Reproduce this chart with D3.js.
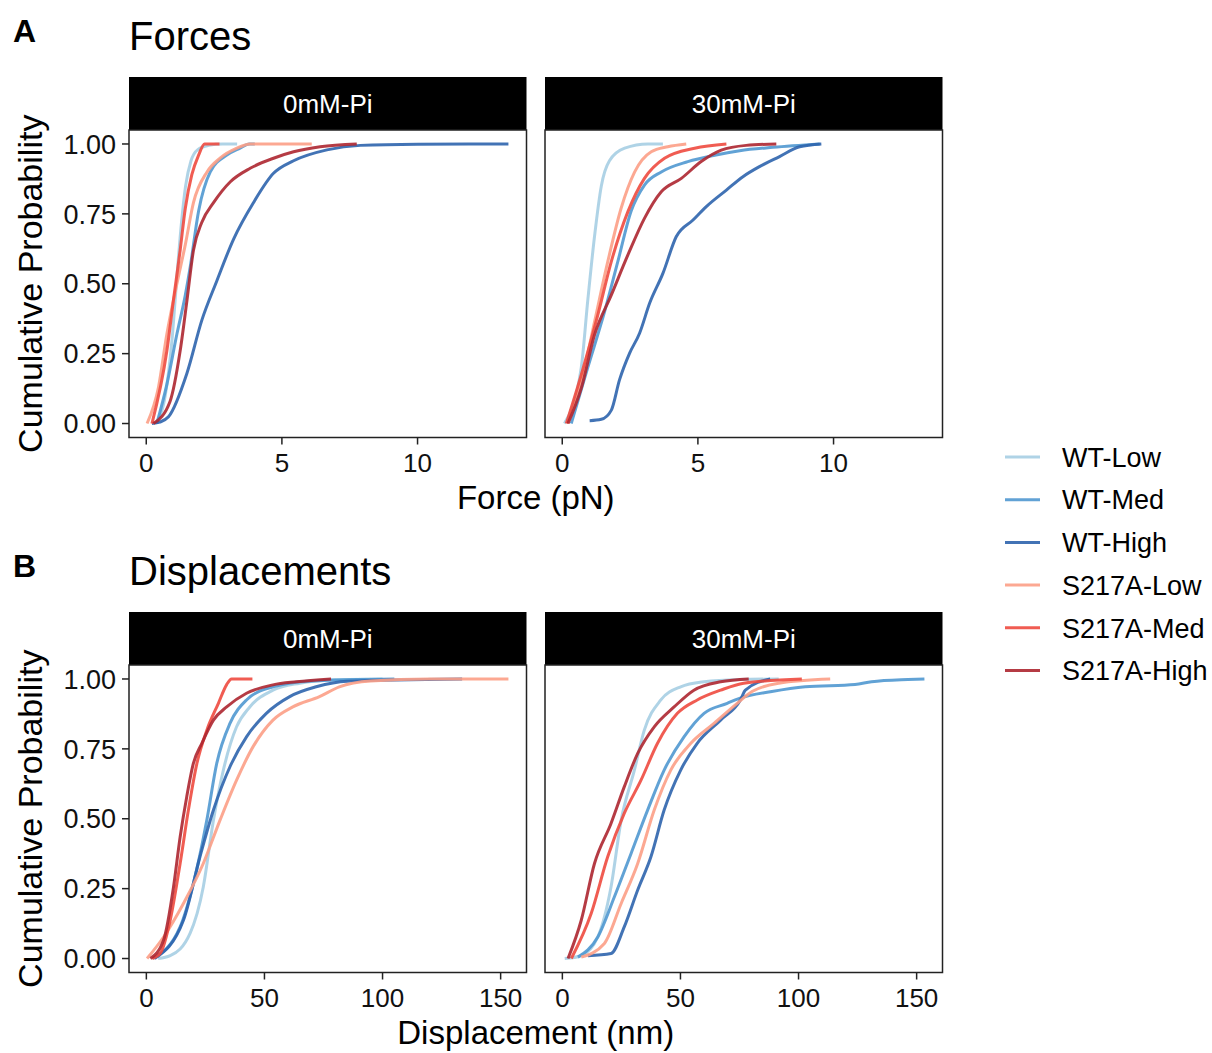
<!DOCTYPE html>
<html>
<head>
<meta charset="utf-8">
<script src="https://cdn.jsdelivr.net/npm/d3@7"></script>
<style>
  body { margin: 0; background: #fff; }
  text { font-family: "Liberation Sans", Arial, sans-serif; }
</style>
</head>
<body>
<svg id="chart" width="1212" height="1053"></svg>
<script>
const groups = ["WT-Low", "WT-Med", "WT-High", "S217A-Low", "S217A-Med", "S217A-High"]
const colors = ["#a6cee3", "#5098d0", "#2d64ad", "#fc9f86", "#ee4a3f", "#ad2630"]
const facets = ["0mM-Pi", "30mM-Pi"]
const yTicks = [0, 0.25, 0.5, 0.75, 1]
const forceTicks = [0, 5, 10]
const dispTicks = [0, 50, 100, 150]

// ecdf curves, [value, cumulative probability]
// Forces, 0mM-Pi
const f0_wtLow = [[0.35,0],[0.7,0.1],[0.95,0.3],[1.15,0.55],[1.3,0.72],[1.45,0.85],[1.65,0.94],[1.9,0.98],[2.3,0.995],[2.8,1],[3.35,1]]
const f0_wtMed = [[0.39,0],[0.76,0.14],[1.13,0.32],[1.44,0.46],[1.62,0.56],[1.93,0.76],[2.36,0.9],[2.97,0.96],[3.46,0.985],[3.8,1],[4.0,1]]
const f0_wtHigh = [[0.21,0],[0.5,0.005],[0.82,0.024],[1.5,0.18],[2.05,0.37],[2.6,0.51],[3.22,0.66],[3.95,0.79],[4.69,0.895],[5.43,0.94],[6.66,0.979],[7.89,0.995],[10,0.999],[13.35,1]]
const f0_sLow = [[0.03,0],[0.45,0.13],[0.76,0.32],[1.13,0.5],[1.44,0.64],[1.74,0.79],[2.24,0.9],[2.73,0.95],[3.34,0.985],[3.83,1],[6.1,1]]
const f0_sMed = [[0.21,0],[0.76,0.26],[1.0,0.44],[1.25,0.62],[1.44,0.77],[1.68,0.89],[1.93,0.96],[2.15,1],[2.7,1]]
const f0_sHigh = [[0.27,0],[0.88,0.08],[1.25,0.26],[1.5,0.44],[1.74,0.62],[2.05,0.72],[2.48,0.79],[3.1,0.865],[3.83,0.913],[4.69,0.949],[5.43,0.972],[6.41,0.99],[7.76,1]]
// Forces, 30mM-Pi
const f30_wtLow = [[0.08,0],[0.7,0.2],[0.94,0.44],[1.19,0.67],[1.44,0.85],[1.74,0.94],[2.3,0.985],[3.16,1],[3.71,1]]
const f30_wtMed = [[0.33,0],[0.94,0.2],[1.56,0.4],[2.05,0.58],[2.54,0.76],[3.03,0.853],[3.65,0.9],[4.63,0.937],[5.62,0.96],[6.54,0.976],[7.77,0.988],[9.49,1]]
const f30_wtHigh = [[1.01,0.01],[1.44,0.015],[1.81,0.048],[2.11,0.156],[2.48,0.251],[2.85,0.323],[3.22,0.43],[3.71,0.537],[4.2,0.668],[4.82,0.728],[5.31,0.776],[6.05,0.835],[6.66,0.883],[7.27,0.919],[8.01,0.955],[8.75,0.99],[9.55,1]]
const f30_sLow = [[0.21,0],[0.82,0.2],[1.19,0.364],[1.68,0.58],[2.17,0.77],[2.67,0.9],[3.28,0.972],[3.89,0.99],[4.57,1]]
const f30_sMed = [[0.15,0],[0.7,0.174],[1.31,0.388],[1.81,0.58],[2.42,0.758],[3.03,0.877],[3.77,0.949],[4.88,0.985],[6.05,1]]
const f30_sHigh = [[0.21,0],[0.7,0.126],[1.19,0.317],[1.81,0.46],[2.42,0.603],[3.03,0.734],[3.65,0.829],[4.39,0.877],[5.12,0.937],[5.86,0.978],[6.78,0.995],[7.89,1]]
// Displacements, 0mM-Pi
const d0_wtLow = [[5,0],[10.1,0.01],[18.5,0.09],[24.1,0.256],[28.4,0.495],[32.6,0.674],[38.2,0.829],[43.8,0.9],[53.6,0.96],[65,0.985],[80,0.997],[100,1]]
const d0_wtMed = [[2.8,0],[14.3,0.113],[19.9,0.268],[25.6,0.495],[29.8,0.698],[35.4,0.841],[42.4,0.925],[53.6,0.972],[70,0.993],[105,1]]
const d0_wtHigh = [[3.5,0],[15.7,0.137],[22.7,0.364],[28.4,0.531],[35.4,0.686],[42.4,0.793],[50.8,0.877],[60.7,0.937],[71.9,0.972],[85,0.992],[133.7,1]]
const d0_sLow = [[0.3,0],[7.3,0.077],[15.7,0.197],[24.1,0.34],[31.2,0.495],[38.2,0.638],[45.2,0.758],[53.6,0.853],[62,0.9],[73.3,0.937],[81.7,0.972],[95,0.993],[120,1],[153.3,1]]
const d0_sMed = [[2.5,0],[6,0.02],[10.1,0.137],[14.3,0.34],[17.8,0.531],[21.4,0.698],[25.6,0.817],[30.5,0.913],[34,0.98],[36.1,1],[44.9,1]]
const d0_sHigh = [[1.7,0],[7.3,0.066],[11.5,0.256],[14.3,0.435],[17.1,0.579],[19.9,0.698],[23.5,0.77],[28.4,0.853],[34,0.9],[42.4,0.949],[53.6,0.979],[63.5,0.99],[78.2,1]]
// Displacements, 30mM-Pi
const d30_wtLow = [[1,0],[8,0.01],[15,0.077],[20.6,0.256],[24.9,0.495],[30.5,0.674],[34.7,0.817],[41.7,0.925],[50.1,0.972],[60,0.99],[75,0.998],[91.6,1]]
const d30_wtMed = [[6.6,0.005],[15,0.077],[22,0.22],[29.1,0.376],[36.1,0.531],[43.1,0.674],[51.5,0.793],[60,0.877],[69.8,0.913],[74.7,0.93],[88.7,0.955],[102.8,0.972],[123.9,0.98],[130.9,0.99],[146.3,0.998],[153.3,1]]
const d30_wtHigh = [[10.8,0.01],[20.6,0.018],[26.2,0.113],[31.9,0.245],[37.5,0.364],[43.1,0.531],[50.1,0.674],[57.1,0.77],[67,0.853],[75.4,0.925],[77.5,0.96],[88,1]]
const d30_sLow = [[8,0.005],[17.8,0.054],[24.9,0.197],[31.9,0.34],[38.9,0.531],[45.9,0.674],[54.4,0.77],[64.2,0.841],[74,0.913],[80.3,0.955],[91.6,0.985],[113.4,1]]
const d30_sMed = [[3.8,0],[12.2,0.161],[19.2,0.364],[26.2,0.519],[33.3,0.638],[40.3,0.77],[48.7,0.877],[57.1,0.925],[67,0.96],[76.8,0.985],[101.4,1]]
const d30_sHigh = [[2.4,0],[8,0.137],[13.6,0.34],[20.6,0.483],[26.2,0.614],[31.9,0.734],[38.9,0.829],[47.3,0.9],[55.7,0.96],[67,0.99],[78.9,1]]

const rows = [
  { letter: "A", title: "Forces", xTitle: "Force (pN)", ticks: forceTicks, top: 77,
    curves: [[f0_wtLow, f0_wtMed, f0_wtHigh, f0_sLow, f0_sMed, f0_sHigh],
             [f30_wtLow, f30_wtMed, f30_wtHigh, f30_sLow, f30_sMed, f30_sHigh]] },
  { letter: "B", title: "Displacements", xTitle: "Displacement (nm)", ticks: dispTicks, top: 612,
    curves: [[d0_wtLow, d0_wtMed, d0_wtHigh, d0_sLow, d0_sMed, d0_sHigh],
             [d30_wtLow, d30_wtMed, d30_wtHigh, d30_sLow, d30_sMed, d30_sHigh]] }
]

const svg = d3.select("#chart")
const panelLeft = [129, 545]
const panelW = 397.5
const stripH = 53
const panelH = 307.5
const tickLen = 7

rows.forEach(row => {
  let xs = row.curves.flat().flat().map(d => d[0])
  let lo = d3.min(xs), hi = d3.max(xs), pad = (hi - lo) * 0.05
  let panelTop = row.top + stripH

  let y = d3.scaleLinear().domain([-0.05, 1.05]).range([panelTop + panelH, panelTop])

  // panel letter + title
  svg.append("text").attr("x", 13).attr("y", row.top - 35)
    .style("font-size", "32px").style("font-weight", "bold").text(row.letter)
  svg.append("text").attr("x", 129).attr("y", row.top - 27)
    .style("font-size", "40px").text(row.title)

  facets.forEach((facet, fi) => {
    let x = d3.scaleLinear().domain([lo - pad, hi + pad]).range([panelLeft[fi], panelLeft[fi] + panelW])
    let g = svg.append("g")

    g.append("rect").attr("x", panelLeft[fi]).attr("y", row.top)
      .attr("width", panelW).attr("height", stripH).attr("fill", "#000")
    g.append("text").attr("x", panelLeft[fi] + panelW / 2).attr("y", row.top + stripH / 2)
      .attr("dy", "0.36em").attr("text-anchor", "middle").attr("fill", "#fff")
      .style("font-size", "26px").text(facet)

    let line = d3.line().x(d => x(d[0])).y(d => y(d[1])).curve(d3.curveMonotoneX)
    row.curves[fi].forEach((c, gi) => {
      g.append("path").datum(c).attr("d", line)
        .attr("fill", "none").attr("stroke", colors[gi])
        .attr("stroke-width", 3).attr("stroke-opacity", 0.9)
        .attr("stroke-linejoin", "round")
    })

    g.append("rect").attr("x", panelLeft[fi]).attr("y", panelTop)
      .attr("width", panelW).attr("height", panelH)
      .attr("fill", "none").attr("stroke", "#222").attr("stroke-width", 1.5)

    let xAxis = g.append("g").attr("transform", `translate(0,${panelTop + panelH})`)
    row.ticks.forEach(t => {
      xAxis.append("line").attr("x1", x(t)).attr("x2", x(t)).attr("y1", 0).attr("y2", tickLen)
        .attr("stroke", "#222").attr("stroke-width", 1.5)
      xAxis.append("text").attr("x", x(t)).attr("y", 34.5).attr("text-anchor", "middle")
        .style("font-size", "26px").attr("fill", "#111").text(t)
    })

    if (fi == 0) {
      let yAxis = g.append("g").attr("transform", `translate(${panelLeft[0]},0)`)
      yTicks.forEach(t => {
        yAxis.append("line").attr("x1", -tickLen).attr("x2", 0).attr("y1", y(t)).attr("y2", y(t))
          .attr("stroke", "#222").attr("stroke-width", 1.5)
        yAxis.append("text").attr("x", -13).attr("y", y(t)).attr("dy", "0.36em")
          .attr("text-anchor", "end").style("font-size", "27px").attr("fill", "#111")
          .text(d3.format(".2f")(t))
      })
    }
  })

  svg.append("text").attr("transform", `translate(42,${panelTop + panelH / 2}) rotate(-90)`)
    .attr("text-anchor", "middle").style("font-size", "34px").text("Cumulative Probability")
  svg.append("text").attr("x", (panelLeft[0] + panelLeft[1] + panelW) / 2)
    .attr("y", panelTop + panelH + 71).attr("text-anchor", "middle")
    .style("font-size", "33px").text(row.xTitle)
})

// legend
let legend = svg.append("g")
groups.forEach((name, i) => {
  let ly = 457 + i * 42.7
  legend.append("line").attr("x1", 1005).attr("x2", 1040).attr("y1", ly).attr("y2", ly)
    .attr("stroke", colors[i]).attr("stroke-width", 3).attr("stroke-opacity", 0.9)
  legend.append("text").attr("x", 1062).attr("y", ly).attr("dy", "0.36em")
    .style("font-size", "27px").text(name)
})
</script>
</body>
</html>
